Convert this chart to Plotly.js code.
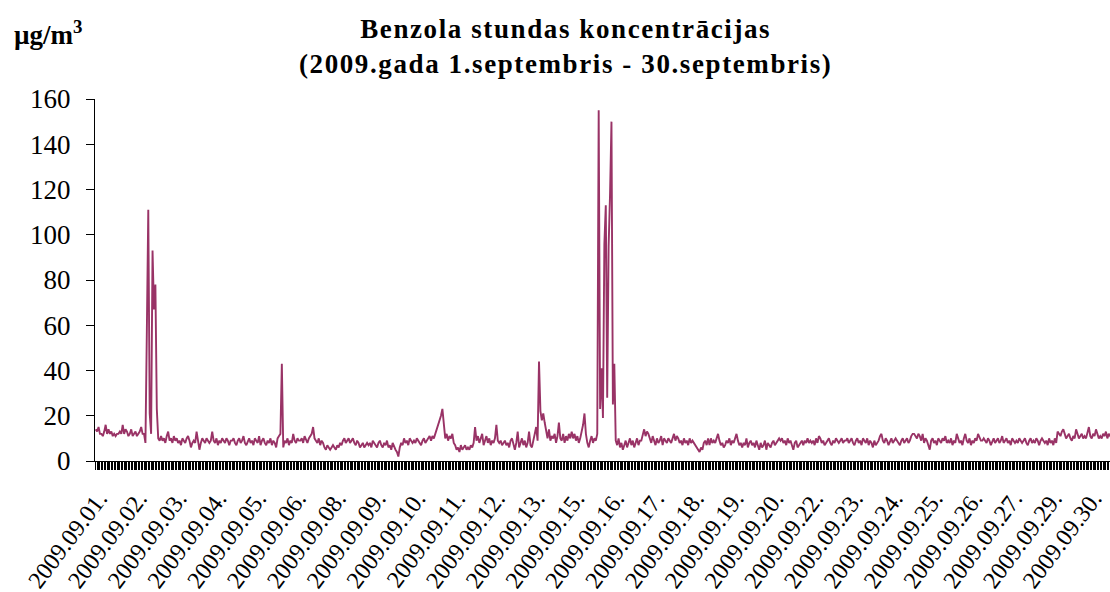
<!DOCTYPE html>
<html>
<head>
<meta charset="utf-8">
<script src="https://cdn.plot.ly/plotly-3.0.1.min.js"></script>
<style>
html,body{margin:0;padding:0;background:#fff;overflow:hidden;width:1110px;height:592px;}
#chart{width:1118px;height:592px;}
.gtitle{letter-spacing:1.6px;}
</style>
</head>
<body>
<div id="chart"></div>
<script>
// Hourly benzene concentrations, µg/m3 (24 values per day, September 2009)
var d01 = [14,13,15,12,12,11,13,16,12,14,12,13,11,12,11,12,12,13,12,16,12,14,13,11];
var d02 = [12,14,11,12,13,11,12,13,15,12,12,8,58,111,21,12,93,67,78,23,10,9,11,9];
var d03 = [10,8,11,13,9,10,8,11,9,10,8,9,7,10,9,8,10,11,9,6,8,9,8,13];
var d04 = [9,5,8,10,9,8,10,9,8,9,13,9,8,10,7,9,8,10,9,8,10,9,7,9];
var d05 = [9,10,8,7,9,10,8,9,11,8,7,9,10,8,9,7,10,9,8,11,7,9,10,8];
var d06 = [7,9,8,10,7,9,8,6,10,11,12,43,6,9,8,10,7,9,8,12,9,8,10,9];
var d07 = [9,10,8,11,9,8,10,11,12,15,10,9,8,10,7,9,8,6,5,7,6,5,6,7];
var d08 = [6,5,7,6,8,7,9,10,8,9,10,8,9,10,8,7,9,8,6,7,8,6,7,8];
var d09 = [7,8,6,9,8,7,6,8,9,7,6,8,7,9,6,7,5,8,6,5,4,2,6,8];
var d10 = [7,10,8,9,7,10,9,8,9,8,10,9,8,7,9,10,8,9,10,11,9,11,10,12];
var d11 = [13,15,17,20,23,16,10,12,9,11,10,12,8,7,5,6,4,7,5,6,7,5,6,5];
var d12 = [7,6,8,15,9,11,8,10,12,7,9,11,8,10,7,9,8,10,16,9,8,9,7,8];
var d13 = [9,7,8,6,9,10,7,5,8,13,6,8,10,7,9,6,8,13,7,6,10,12,15,9];
var d14 = [44,22,18,21,17,13,10,14,9,11,10,12,8,11,17,10,9,12,8,11,9,12,10,13];
var d15 = [10,12,9,11,8,10,13,16,21,12,8,6,9,11,8,10,9,12,155,23,41,19,96,113];
var d16 = [28,95,118,150,25,43,9,7,10,6,8,5,7,9,6,8,10,7,9,6,8,10,7,9];
var d17 = [9,12,14,11,13,12,10,8,11,9,7,10,8,9,11,7,10,9,8,10,9,8,10,12];
var d18 = [9,11,10,8,9,7,10,8,9,7,10,8,9,8,7,6,5,4,6,5,8,9,7,10];
var d19 = [7,10,8,9,8,10,12,9,7,8,6,7,9,8,10,7,9,8,10,12,9,7,8,6];
var d20 = [8,7,10,6,8,9,7,8,6,9,7,5,8,6,7,9,5,8,7,6,8,9,7,8];
var d21 = [9,10,9,10,8,9,7,10,8,9,7,5,8,9,6,7,8,9,7,9,8,10,8,9];
var d22 = [8,9,7,10,8,11,10,8,9,7,8,9,10,8,7,9,8,10,9,8,9,10,8,9];
var d23 = [9,10,8,9,10,8,7,9,10,8,9,7,10,9,8,10,7,9,8,6,9,7,8,9];
var d24 = [11,12,9,8,10,9,7,9,10,8,9,10,9,8,7,9,10,8,9,10,8,9,11,12];
var d25 = [12,11,10,12,11,9,12,8,10,9,7,5,9,10,8,9,7,10,9,8,10,9,11,8];
var d26 = [9,8,10,7,9,8,12,10,8,9,7,10,12,9,8,10,7,9,8,10,9,12,10,9];
var d27 = [9,10,9,8,10,9,7,9,10,8,9,10,8,9,11,8,9,10,8,9,7,10,9,8];
var d28 = [9,8,10,9,8,9,10,8,7,9,10,8,9,8,10,9,7,9,10,9,8,9,7,10];
var d29 = [8,9,7,10,8,13,12,11,13,14,12,10,11,12,10,9,11,10,14,12,10,11,12,10];
var d30 = [11,10,12,15,11,10,12,11,14,12,10,11,10,12,11,13,10,12,11,10,11,12,10,11];

// Category labels shown on the axis and the hour index they belong to
var labelText = ["2009.09.01.","2009.09.02.","2009.09.03.","2009.09.04.","2009.09.05.",
  "2009.09.06.","2009.09.08.","2009.09.09.","2009.09.10.","2009.09.11.","2009.09.12.",
  "2009.09.13.","2009.09.15.","2009.09.16.","2009.09.17.","2009.09.18.","2009.09.19.",
  "2009.09.20.","2009.09.22.","2009.09.23.","2009.09.24.","2009.09.25.","2009.09.26.",
  "2009.09.27.","2009.09.29.","2009.09.30."];
var labelHour = [0,28,56,84,112,140,168,196,224,252,280,308,336,364,392,420,448,476,504,532,560,588,616,644,672,700];

var titleText = "Benzola stundas koncentrācijas<br>(2009.gada 1.septembris - 30.septembris)";
var unitText = "µg/m<sup>3</sup>";

var values = [].concat(d01,d02,d03,d04,d05,d06,d07,d08,d09,d10,d11,d12,d13,d14,d15,
  d16,d17,d18,d19,d20,d21,d22,d23,d24,d25,d26,d27,d28,d29,d30);
var hours = values.map(function(v, i){ return i; });

var serif = "Liberation Serif";

Plotly.newPlot("chart", [{
  type: "scatter",
  mode: "lines",
  x: hours,
  y: values,
  line: {color: "#993366", width: 1.9},
  hoverinfo: "y"
}], {
  width: 1118,
  height: 592,
  paper_bgcolor: "#fff",
  plot_bgcolor: "#fff",
  showlegend: false,
  margin: {l: 95, r: 0, t: 99, b: 131},
  title: {
    text: titleText,
    font: {family: serif, size: 27, color: "#000", weight: "bold"},
    xref: "container", yref: "container",
    x: 0.506, xanchor: "center",
    y: 0.9366, yanchor: "middle"
  },
  xaxis: {
    range: [-0.5, values.length - 0.5],
    tickmode: "array",
    tickvals: labelHour,
    ticktext: labelText,
    tickangle: -53,
    ticks: "outside",
    ticklen: 8,
    tickwidth: 1,
    tickcolor: "#000",
    minor: {dtick: 1, ticks: "outside", ticklen: 8, tickwidth: 1, tickcolor: "#000", showgrid: false},
    showline: true,
    linecolor: "#000",
    linewidth: 1,
    showgrid: false,
    zeroline: false,
    ticklabelstandoff: 5,
    ticklabelshift: 3,
    tickfont: {family: serif, size: 24, color: "#000"},
    fixedrange: true
  },
  yaxis: {
    range: [0, 160],
    dtick: 20,
    ticks: "outside",
    ticklen: 8,
    tickwidth: 1,
    tickcolor: "#000",
    showline: true,
    linecolor: "#000",
    linewidth: 1,
    showgrid: false,
    zeroline: false,
    ticklabelstandoff: 10,
    tickfont: {family: serif, size: 27, color: "#000"},
    fixedrange: true
  },
  annotations: [{
    text: unitText,
    xref: "paper", yref: "paper",
    x: -0.081, y: 1.13,
    xanchor: "left", yanchor: "bottom",
    showarrow: false,
    font: {family: serif, size: 27, color: "#000", weight: "bold"}
  }]
}, {displayModeBar: false, staticPlot: true});
</script>
</body>
</html>
